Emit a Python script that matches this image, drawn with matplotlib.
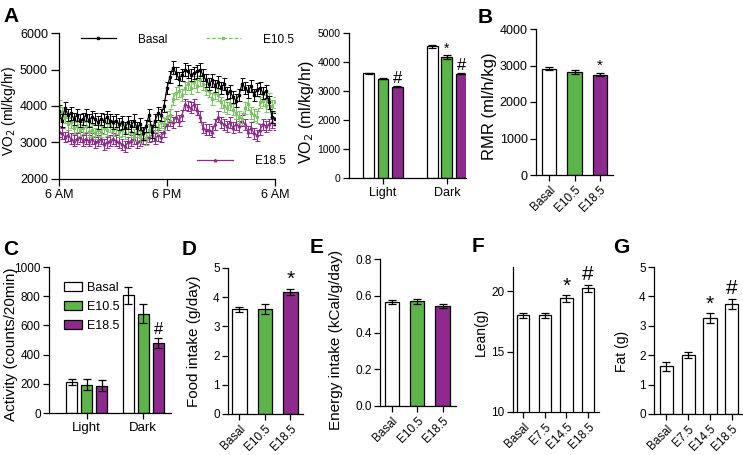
import numpy as np
import matplotlib.pyplot as plt

plt.rcParams['font.family'] = ['Liberation Sans', 'DejaVu Sans']
plt.rcParams['font.size'] = 8.5
plt.rcParams['axes.linewidth'] = 0.9
plt.rcParams['xtick.major.width'] = 0.9
plt.rcParams['ytick.major.width'] = 0.9
plt.rcParams['xtick.major.size'] = 4
plt.rcParams['ytick.major.size'] = 4
plt.rcParams['xtick.major.pad'] = 2.5
plt.rcParams['ytick.major.pad'] = 2
plt.rcParams['axes.spines.top'] = False
plt.rcParams['axes.spines.right'] = False

GREEN = '#5cb548'
LGREEN = '#7cc463'
PURPLE = '#8e2a8e'

# --- A: VO2 time course, 20-min bins from 6 AM to 6 AM ---
bins = np.arange(73)
vo2_basal = [3850, 3600, 3950, 3750, 3800, 3650, 3750, 3600, 3650, 3750, 3600, 3700, 3650,
             3550, 3650, 3600, 3700, 3600, 3550, 3600, 3500, 3550, 3400, 3550, 3450, 3600,
             3400, 3500, 3250, 3450, 3750, 3300, 3600, 3800, 3750, 4000, 4500, 4800, 5050,
             4900, 4750, 4850, 5000, 4950, 4850, 4900, 4950, 5000, 4850, 4700, 4600, 4700,
             4550, 4650, 4500, 4600, 4350, 4400, 4250, 4150, 4300, 4600, 4500, 4400, 4550,
             4300, 4450, 4500, 4350, 4400, 4100, 3700, 3650]
vo2_e105 = [4000, 3800, 3700, 3500, 3550, 3400, 3450, 3350, 3400, 3450, 3300, 3350, 3250,
            3350, 3300, 3400, 3350, 3450, 3350, 3400, 3300, 3350, 3250, 3400, 3300, 3200,
            3300, 3150, 3250, 3100, 3350, 3300, 3450, 3400, 3550, 3500, 3700, 3750, 4200,
            4350, 4400, 4300, 4500, 4600, 4500, 4650, 4550, 4700, 4600, 4450, 4400, 4200,
            4350, 4300, 4100, 4000, 3950, 4050, 3900, 3800, 3700, 3650, 3950, 4050, 3800,
            3750, 3700, 4100, 4150, 4000, 4200, 4000, 4100]
vo2_e185 = [3300, 3250, 3150, 3200, 3100, 3050, 3100, 3150, 3050, 3100, 3050, 3100, 3000,
            3050, 3100, 2950, 3000, 3050, 3100, 3050, 3000, 2950, 2900, 3000, 3050, 3100,
            3000, 3050, 3100, 3100, 3150, 3200, 3100, 3200, 3150, 3300, 3500, 3600, 3550,
            3700, 3600, 3750, 4050, 4000, 3950, 4050, 3900, 3700, 3400, 3350, 3350, 3300,
            3500, 3700, 3550, 3500, 3450, 3550, 3400, 3500, 3450, 3600, 3500, 3300, 3400,
            3250, 3200, 3350, 3500, 3450, 3500, 3550, 3500]
sem_basal, sem_e105, sem_e185 = 170, 160, 150

# --- A right: VO2 light/dark ---
phases = ['Light', 'Dark']
vo2_phase = {'Basal': [3610, 4540], 'E10.5': [3420, 4170], 'E18.5': [3150, 3600]}
vo2_phase_err = {'Basal': [25, 50], 'E10.5': [20, 60], 'E18.5': [20, 25]}

# --- B: RMR ---
groups3 = ['Basal', 'E10.5', 'E18.5']
rmr = [2910, 2830, 2750]
rmr_err = [40, 60, 40]

# --- C: activity ---
act = {'Basal': [215, 805], 'E10.5': [195, 680], 'E18.5': [188, 478]}
act_err = {'Basal': [20, 60], 'E10.5': [35, 65], 'E18.5': [40, 35]}

# --- D: food intake ---
food = [3.58, 3.6, 4.18]
food_err = [0.09, 0.17, 0.11]

# --- E: energy intake ---
energy = [0.567, 0.570, 0.543]
energy_err = [0.010, 0.014, 0.012]

# --- F, G: body composition ---
groups4 = ['Basal', 'E7.5', 'E14.5', 'E18.5']
lean = [18.0, 18.0, 19.4, 20.25]
lean_err = [0.2, 0.2, 0.3, 0.3]
fat = [1.62, 2.0, 3.26, 3.73]
fat_err = [0.15, 0.1, 0.17, 0.17]

colors3 = ['white', GREEN, PURPLE]
W, H = 743, 455
fig = plt.figure(figsize=(W / 100, H / 100), dpi=100)


def rect(left, top, right, bottom):
    return [left / W, 1 - bottom / H, (right - left) / W, (bottom - top) / H]


def letter(s, x, y):
    fig.text(x / W, 1 - y / H, s, fontsize=15, fontweight='bold', va='baseline')


def mark(ax, x, y, s, size=13):
    ax.text(x, y, s, ha='center', va='bottom', fontsize=size)


def ylab(ax, box, text, size, right_px, center_px):
    # place the rotated y label by its right edge / vertical centre (pixels)
    left, top, right, bottom = box
    ax.set_ylabel(text, fontsize=size)
    ax.yaxis.set_label_coords((right_px - left) / (right - left),
                              (bottom - center_px) / (bottom - top))


ekw = dict(elinewidth=0.9, capthick=0.9, capsize=3, ecolor='black')

# ---------------- A line ----------------
box = (59, 33, 275, 179)
ax = fig.add_axes(rect(*box))
series = [(vo2_e185, sem_e185, PURPLE, '^', '-', 'E18.5'),
          (vo2_e105, sem_e105, LGREEN, 's', (0, (3, 1.5)), 'E10.5'),
          (vo2_basal, sem_basal, 'black', 's', '-', 'Basal')]
handles = {}
for vals, err, col, mk, ls, lab in series:
    ax.errorbar(bins, vals, yerr=err, fmt='none', ecolor=col, elinewidth=0.7,
                capsize=1.8, capthick=0.7)
    handles[lab], = ax.plot(bins, vals, color=col, marker=mk, ms=1.8, lw=0.9, ls=ls, label=lab)
ax.set_xlim(0, 72)
ax.set_ylim(2000, 6000)
ax.set_xticks([0, 36, 72], ['6 AM', '6 PM', '6 AM'], fontsize=9)
ax.set_yticks([2000, 3000, 4000, 5000, 6000])
ax.tick_params(axis='y', labelsize=9, length=6)
ax.tick_params(axis='x', length=5)
ylab(ax, box, 'VO$_2$ (ml/kg/hr)', 10, 18, 111)
leg1 = ax.legend(handles=[handles['Basal'], handles['E10.5']], ncol=2, frameon=False,
                 loc='center left', bbox_to_anchor=(0.1, 0.955), borderpad=0, borderaxespad=0,
                 handlelength=3.0, handletextpad=1.9, columnspacing=3.2, fontsize=8.5)
ax.add_artist(leg1)
ax.legend(handles=[handles['E18.5']], frameon=False, loc='center left',
          bbox_to_anchor=(0.64, 0.12), borderpad=0, borderaxespad=0,
          handlelength=3.0, handletextpad=1.9, fontsize=8.5)
letter('A', 3, 22)

# ---------------- A bars ----------------
box = (349, 33, 466, 178)
ax = fig.add_axes(rect(*box))
x = np.arange(len(phases))
for k, g in enumerate(groups3):
    ax.bar(x + (k - 1) * 0.225, vo2_phase[g], 0.167, color=colors3[k], edgecolor='black',
           lw=0.9, yerr=vo2_phase_err[g], error_kw=ekw)
ax.set_xlim(-0.53, 1.3)
ax.set_ylim(0, 5000)
ax.set_yticks(range(0, 5001, 1000))
ax.tick_params(axis='y', labelsize=7.5)
ax.set_xticks(x, phases, fontsize=9)
ylab(ax, box, 'VO$_2$ (ml/kg/hr)', 11.5, 316, 112)
mark(ax, 0.225, vo2_phase['E18.5'][0] + 20, '#', 12)
mark(ax, 1.0, vo2_phase['E10.5'][1] + 50, '*', 10)
mark(ax, 1.225, vo2_phase['E18.5'][1] + 20, '#', 12)

# ---------------- B ----------------
box = (536, 29, 613, 175)
ax = fig.add_axes(rect(*box))
x = np.arange(3)
ax.bar(x, rmr, 0.576, color=colors3, edgecolor='black', lw=0.9, yerr=rmr_err, error_kw=ekw)
ax.set_xlim(-0.52, 2.52)
ax.set_ylim(0, 4000)
ax.set_yticks(range(0, 4001, 1000))
ax.tick_params(axis='y', labelsize=9)
ax.set_xticks(x, groups3, rotation=45, ha='right', rotation_mode='anchor', fontsize=8.5)
ylab(ax, box, 'RMR (ml/h/kg)', 12, 497, 106)
mark(ax, 2, rmr[2] + rmr_err[2] + 10, '*', 11)
letter('B', 478, 23)

# ---------------- C ----------------
box = (49, 267, 171, 413)
ax = fig.add_axes(rect(*box))
x = np.arange(len(phases))
for k, g in enumerate(groups3):
    ax.bar(x + (k - 1) * 0.266, act[g], 0.2, color=colors3[k], edgecolor='black',
           lw=0.9, yerr=act_err[g], error_kw=ekw, label=g)
ax.set_xlim(-0.665, 1.49)
ax.set_ylim(0, 1000)
ax.set_yticks(range(0, 1001, 200))
ax.tick_params(axis='y', labelsize=8.5)
ax.set_xticks(x, phases, fontsize=9.5)
ylab(ax, box, 'Activity (counts/20min)', 11, 18, 344)
mark(ax, 1.266, act['E18.5'][1] + act_err['E18.5'][1] + 5, '#', 12)
ax.legend(frameon=False, loc='upper left', bbox_to_anchor=(0.12, 0.9), borderpad=0,
          borderaxespad=0, handlelength=1.5, handleheight=0.8, handletextpad=0.4,
          labelspacing=0.55, fontsize=9)
letter('C', 3, 255)

# ---------------- D ----------------
box = (228, 268, 303, 414)
ax = fig.add_axes(rect(*box))
x = np.arange(3)
ax.bar(x, food, 0.57, color=colors3, edgecolor='black', lw=0.9, yerr=food_err, error_kw=ekw)
ax.set_xlim(-0.45, 2.5)
ax.set_ylim(0, 5)
ax.set_yticks(range(0, 6))
ax.set_xticks(x, groups3, rotation=45, ha='right', rotation_mode='anchor')
ylab(ax, box, 'Food intake (g/day)', 11, 201, 341)
mark(ax, 2, food[2] + food_err[2] - 0.02, '*', 15)
letter('D', 182, 255)

# ---------------- E ----------------
box = (380, 259, 456, 406)
ax = fig.add_axes(rect(*box))
ax.bar(x, energy, 0.57, color=colors3, edgecolor='black', lw=0.9, yerr=energy_err, error_kw=ekw)
ax.set_xlim(-0.47, 2.53)
ax.set_ylim(0, 0.8)
ax.set_yticks([0.0, 0.2, 0.4, 0.6, 0.8], ['0.0', '0.2', '0.4', '0.6', '0.8'])
ax.set_xticks(x, groups3, rotation=45, ha='right', rotation_mode='anchor')
ylab(ax, box, 'Energy intake (kCal/g/day)', 11, 343, 340)
letter('E', 310, 253)

# ---------------- F ----------------
box = (513, 267, 599, 412)
ax = fig.add_axes(rect(*box))
x4 = np.arange(4)
ax.bar(x4, lean, 0.57, color='white', edgecolor='black', lw=0.9, yerr=lean_err, error_kw=ekw)
ax.set_xlim(-0.46, 3.5)
ax.set_ylim(10, 22)
ax.set_yticks([10, 15, 20])
ax.set_xticks(x4, groups4, rotation=45, ha='right', rotation_mode='anchor')
ylab(ax, box, 'Lean(g)', 10, 488, 332)
mark(ax, 2, lean[2] + lean_err[2] - 0.05, '*', 15)
mark(ax, 3, lean[3] + lean_err[3] + 0.05, '#', 15)
letter('F', 472, 252)

# ---------------- G ----------------
box = (654, 267, 742, 414)
ax = fig.add_axes(rect(*box))
ax.bar(x4, fat, 0.6, color='white', edgecolor='black', lw=0.9, yerr=fat_err, error_kw=ekw)
ax.set_xlim(-0.57, 3.47)
ax.set_ylim(0, 5)
ax.set_yticks(range(0, 6))
ax.set_xticks(x4, groups4, rotation=45, ha='right', rotation_mode='anchor')
ylab(ax, box, 'Fat (g)', 10, 629, 351)
mark(ax, 2, fat[2] + fat_err[2] - 0.02, '*', 15)
mark(ax, 3, fat[3] + fat_err[3] + 0.03, '#', 15)
letter('G', 613, 253)

fig.savefig('out.png', dpi=100)
